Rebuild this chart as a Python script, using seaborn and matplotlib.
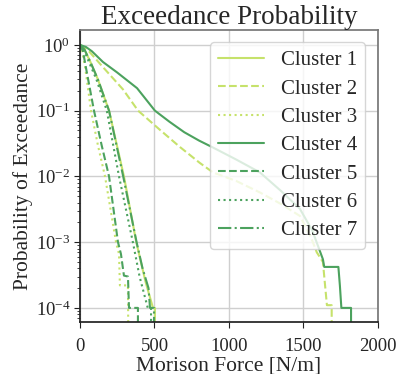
import matplotlib
matplotlib.use("Agg")
import matplotlib.pyplot as plt
import seaborn as sns

# Exceedance curves (force in N/m, probability)
c1_force = [0, 30, 70, 120, 195, 295, 378, 440, 490, 503, 503]
c1_prob = [1, 0.85, 0.55, 0.3, 0.1, 1e-2, 1e-3, 2.5e-4, 1e-4, 1e-4, 1e-6]

c2_force = [0, 60, 154, 289, 390, 537, 671, 805, 893, 1050, 1208, 1350, 1477, 1550, 1590, 1631, 1658, 1690, 1690]
c2_prob = [1, 0.8, 0.46, 0.21, 0.1, 0.051, 0.028, 0.016, 0.0115, 0.0085, 0.0057, 0.0038, 0.0025, 0.0012, 7e-4, 5e-4, 1.1e-4, 1.1e-4, 1e-6]

c3_force = [0, 15, 35, 74, 120, 168, 242, 262, 268, 322, 329]
c3_prob = [1, 0.8, 0.45, 0.1, 0.03, 1e-2, 1e-3, 6.6e-4, 2.2e-4, 2.2e-4, 1e-6]

c4_force = [0, 40, 80, 154, 250, 383, 503, 600, 700, 800, 893, 1050, 1208, 1350, 1477, 1560, 1631, 1640, 1735, 1745, 1755, 1820, 1820]
c4_prob = [1, 0.93, 0.8, 0.55, 0.38, 0.22, 0.1, 0.068, 0.047, 0.035, 0.0275, 0.018, 0.0115, 0.006, 0.0032, 0.0015, 5.5e-4, 4.2e-4, 4.2e-4, 2.2e-4, 1e-4, 1e-4, 1e-6]

c5_force = [0, 20, 40, 94, 145, 195, 255, 275, 295, 322, 329, 389, 389]
c5_prob = [1, 0.8, 0.45, 0.1, 0.03, 1e-2, 1e-3, 6.6e-4, 3.1e-4, 3e-4, 1e-4, 1e-4, 1e-6]

c6_force = [0, 25, 60, 110, 180, 262, 355, 400, 455, 477, 477]
c6_prob = [1, 0.85, 0.55, 0.3, 0.1, 1e-2, 1e-3, 3e-4, 1e-4, 1e-4, 1e-6]

c7_force = [0, 30, 70, 120, 195, 290, 380, 420, 460, 470, 497, 497]
c7_prob = [1, 0.85, 0.55, 0.3, 0.1, 1e-2, 1e-3, 4e-4, 2e-4, 1e-4, 1e-4, 1e-6]

labels = ["Cluster 1", "Cluster 2", "Cluster 3", "Cluster 4", "Cluster 5", "Cluster 6", "Cluster 7"]
x_ticks = [0, 500, 1000, 1500, 2000]

light = "#c6e26b"
dark = "#4ca25e"

sns.set_theme(style="whitegrid")
plt.rcParams["font.family"] = ["Liberation Serif", "DejaVu Serif"]
plt.rcParams["mathtext.fontset"] = "stix"

fig = plt.figure(figsize=(3.99, 3.74), dpi=100)
ax = fig.add_axes([0.2005, 0.139, 0.7465, 0.781])

series = [
    (c1_force, c1_prob, light, "-"),
    (c2_force, c2_prob, light, "--"),
    (c3_force, c3_prob, light, ":"),
    (c4_force, c4_prob, dark, "-"),
    (c5_force, c5_prob, dark, "--"),
    (c6_force, c6_prob, dark, ":"),
    (c7_force, c7_prob, dark, "-."),
]
for (fx, py, col, ls), lab in zip(series, labels):
    sns.lineplot(x=fx, y=py, ax=ax, color=col, linestyle=ls, linewidth=1.5,
                 label=lab, estimator=None, sort=False)

ax.set_yscale("log")
ax.set_xlim(0, 2000)
ax.set_ylim(6.1e-5, 1.69)
ax.set_xticks(x_ticks)
ax.set_yticks([1e0, 1e-1, 1e-2, 1e-3, 1e-4])

ax.grid(True, which="major", color="#cfcfcf", linewidth=1.0)
ax.grid(False, which="minor")
for side in ["left", "bottom"]:
    ax.spines[side].set_color("#222222")
for side in ["top", "right"]:
    ax.spines[side].set_color("#777777")
ax.tick_params(axis="both", which="major", direction="out", length=4, width=0.8,
               color="#222222", labelsize=13.5, left=True, bottom=True)
ax.tick_params(axis="x", which="major", pad=7.5)
ax.tick_params(axis="y", which="major", pad=3)
ax.tick_params(axis="y", which="minor", direction="out", length=2, width=0.6,
               color="#222222", left=True)

ax.set_title("Exceedance Probability", fontsize=19.5, pad=4)
ax.set_xlabel("Morison Force [N/m]", fontsize=15.5, labelpad=1)
ax.set_ylabel("Probability of Exceedance", fontsize=15.5, labelpad=2)

ax.legend(loc="upper right", fontsize=15, frameon=True, framealpha=0.8,
          borderaxespad=0.6, labelspacing=0.42, handlelength=2.2)

fig.savefig("out.png", dpi=100)
plt.close(fig)
